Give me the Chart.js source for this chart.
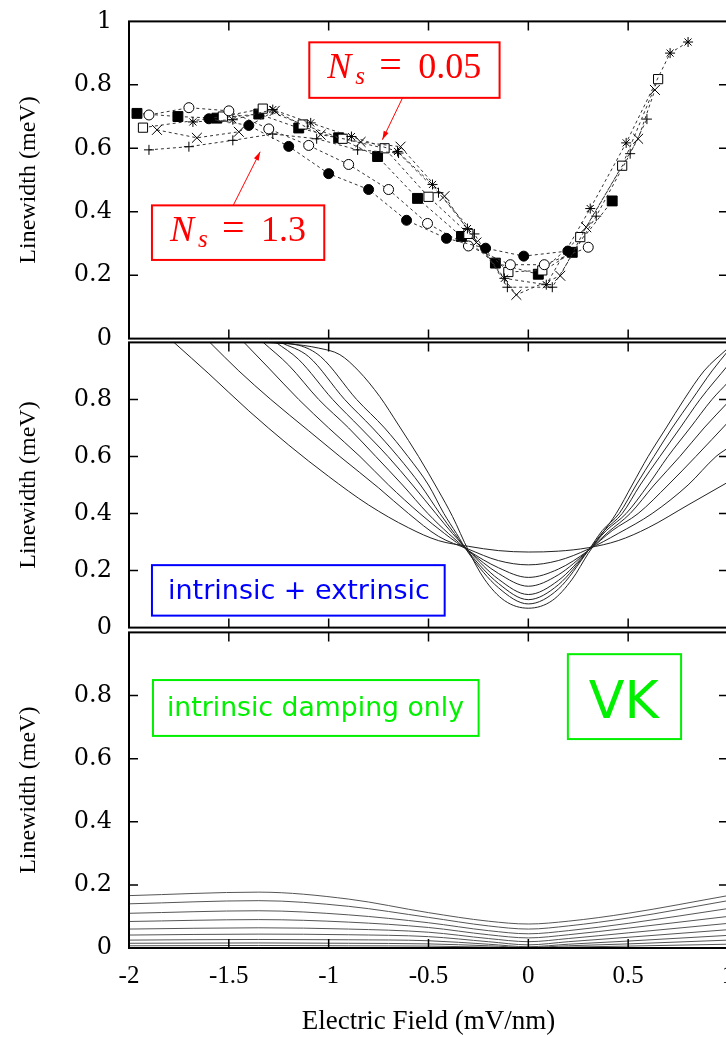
<!DOCTYPE html>
<html>
<head>
<meta charset="utf-8">
<script src="https://cdn.jsdelivr.net/npm/chart.js@4.4.0/dist/chart.umd.min.js"></script>
<style>
  html, body { margin: 0; padding: 0; background: #fff; overflow: hidden; width: 726px; height: 1037px; }
  canvas { position: absolute; left: 0; width: 760px; }
</style>
</head>
<body>
<canvas id="topChart" width="760" height="380" style="top:-10px; height:380px"></canvas>
<canvas id="midChart" width="760" height="348" style="top:311px; height:348px"></canvas>
<canvas id="botChart" width="760" height="436" style="top:601px; height:436px"></canvas>
<script>
// ---- measured linewidths (top panel), [field, linewidth] ----
const filledSquares = [[-1.96,0.71],[-1.755,0.70],[-1.56,0.695],[-1.35,0.708],[-1.15,0.664],[-0.95,0.633],[-0.755,0.574],[-0.555,0.442],[-0.335,0.322],[-0.165,0.238],[0.05,0.203],[0.22,0.272],[0.42,0.434]];
const filledCircles = [[-1.60,0.693],[-1.40,0.672],[-1.20,0.606],[-1.00,0.52],[-0.80,0.47],[-0.61,0.373],[-0.41,0.316],[-0.214,0.285],[-0.023,0.26],[0.198,0.276]];
const openCircles = [[-1.90,0.705],[-1.70,0.728],[-1.50,0.718],[-1.30,0.661],[-1.10,0.609],[-0.90,0.549],[-0.70,0.47],[-0.505,0.363],[-0.30,0.292],[-0.09,0.233],[0.08,0.233],[0.30,0.288]];
const openSquares = [[-1.93,0.665],[-1.53,0.70],[-1.33,0.725],[-1.13,0.675],[-0.93,0.63],[-0.72,0.60],[-0.50,0.447],[-0.30,0.33],[-0.10,0.21],[0.07,0.215],[0.26,0.32],[0.47,0.545],[0.65,0.818]];
const crosses = [[-1.86,0.658],[-1.66,0.633],[-1.45,0.652],[-1.27,0.718],[-1.04,0.643],[-0.84,0.62],[-0.64,0.605],[-0.42,0.449],[-0.26,0.303],[-0.06,0.138],[0.16,0.198],[0.29,0.351],[0.55,0.63],[0.634,0.784]];
const plusses = [[-1.90,0.595],[-1.70,0.605],[-1.48,0.625],[-1.28,0.645],[-1.06,0.63],[-0.855,0.595],[-0.65,0.585],[-0.45,0.46],[-0.27,0.33],[-0.105,0.162],[0.12,0.162],[0.34,0.386],[0.51,0.583],[0.594,0.692]];
const stars = [[-1.68,0.683],[-1.48,0.69],[-1.28,0.722],[-1.09,0.68],[-0.886,0.637],[-0.655,0.59],[-0.48,0.486],[-0.305,0.347],[-0.12,0.19],[0.09,0.17],[0.31,0.41],[0.49,0.617],[0.71,0.90],[0.80,0.935]];

// ---- intrinsic + extrinsic (middle panel) ----
const mixed1 = [[-1.775,1],[-1.6,0.89],[-1.4,0.76],[-1.2,0.64],[-1.0,0.53],[-0.8,0.43],[-0.6,0.35],[-0.45,0.305],[-0.3,0.285],[-0.15,0.27],[0,0.265],[0.15,0.268],[0.3,0.28],[0.45,0.305],[0.6,0.35],[0.8,0.43],[1.0,0.51]];
const mixed2 = [[-1.595,1],[-1.45,0.9],[-1.29,0.8],[-1.1,0.69],[-0.944,0.6],[-0.75,0.49],[-0.6,0.4],[-0.45,0.32],[-0.3,0.275],[-0.15,0.235],[0,0.22],[0.15,0.235],[0.3,0.275],[0.45,0.33],[0.62,0.4],[0.8,0.5],[0.94,0.6],[1.0,0.63]];
const mixed3 = [[-1.424,1],[-1.3,0.91],[-1.15,0.8],[-1.0,0.7],[-0.843,0.6],[-0.7,0.5],[-0.543,0.4],[-0.42,0.33],[-0.3,0.27],[-0.15,0.21],[0,0.176],[0.15,0.205],[0.3,0.27],[0.42,0.34],[0.55,0.4],[0.7,0.5],[0.839,0.6],[1.0,0.72]];
const mixed4 = [[-1.328,1],[-1.2,0.92],[-1.05,0.8],[-0.9,0.7],[-0.764,0.6],[-0.63,0.5],[-0.503,0.4],[-0.4,0.33],[-0.3,0.27],[-0.15,0.19],[0,0.145],[0.15,0.185],[0.3,0.27],[0.4,0.335],[0.51,0.4],[0.63,0.5],[0.759,0.6],[0.88,0.7],[1.0,0.79]];
const mixed5 = [[-1.264,1],[-1.15,0.94],[-0.98,0.8],[-0.84,0.7],[-0.703,0.6],[-0.58,0.5],[-0.463,0.4],[-0.38,0.33],[-0.3,0.27],[-0.15,0.17],[0,0.116],[0.15,0.165],[0.3,0.27],[0.39,0.34],[0.49,0.4],[0.6,0.5],[0.699,0.6],[0.81,0.7],[0.92,0.8],[1.0,0.86]];
const mixed6 = [[-1.24,1],[-1.1,0.95],[-0.92,0.8],[-0.78,0.7],[-0.653,0.6],[-0.54,0.5],[-0.443,0.4],[-0.37,0.33],[-0.3,0.265],[-0.15,0.155],[0,0.098],[0.15,0.15],[0.3,0.27],[0.38,0.34],[0.47,0.4],[0.56,0.5],[0.659,0.6],[0.76,0.7],[0.86,0.8],[1.0,0.92]];
const mixed7 = [[-1.3,1],[-1.15,0.99],[-1.04,0.95],[-0.86,0.8],[-0.72,0.7],[-0.603,0.6],[-0.5,0.5],[-0.423,0.4],[-0.36,0.33],[-0.3,0.262],[-0.15,0.14],[0,0.083],[0.15,0.135],[0.3,0.27],[0.37,0.34],[0.455,0.4],[0.54,0.5],[0.629,0.6],[0.72,0.7],[0.82,0.8],[0.92,0.9],[1.0,0.97]];
const mixed8 = [[-1.35,1],[-1.2,0.995],[-1.05,0.98],[-0.944,0.957],[-0.85,0.9],[-0.744,0.81],[-0.65,0.71],[-0.55,0.6],[-0.45,0.48],[-0.38,0.39],[-0.3,0.27],[-0.22,0.17],[-0.12,0.095],[0,0.068],[0.12,0.095],[0.22,0.17],[0.3,0.26],[0.37,0.33],[0.44,0.4],[0.52,0.5],[0.6,0.6],[0.69,0.7],[0.78,0.8],[0.88,0.9],[1.0,0.98]];

// ---- intrinsic damping only (bottom panel) ----
const intrX = [-2, -1.35, -0.9, -0.5, -0.2, 0, 0.2, 0.5, 1.0];
const intr1 = [0.166, 0.177, 0.155, 0.112, 0.085, 0.076, 0.085, 0.11, 0.166];
const intr2 = [0.14, 0.15, 0.132, 0.097, 0.07, 0.06, 0.07, 0.095, 0.15];
const intr3 = [0.11, 0.118, 0.105, 0.08, 0.055, 0.045, 0.055, 0.078, 0.125];
const intr4 = [0.084, 0.09, 0.082, 0.065, 0.042, 0.032, 0.042, 0.063, 0.10];
const intr5 = [0.06, 0.064, 0.06, 0.05, 0.03, 0.02, 0.03, 0.048, 0.078];
const intr6 = [0.041, 0.044, 0.042, 0.036, 0.02, 0.01, 0.02, 0.034, 0.058];
const intr7 = [0.025, 0.027, 0.026, 0.023, 0.012, 0.004, 0.012, 0.022, 0.04];
const intr8 = [0.015, 0.016, 0.015, 0.013, 0.007, 0.002, 0.007, 0.013, 0.025];
const intr9 = [0.007, 0.008, 0.007, 0.006, 0.003, 0.0, 0.003, 0.006, 0.012];

const xTickValues = [-1.5, -1, -0.5, 0, 0.5];
const yTickValues = [0.2, 0.4, 0.6, 0.8];

function toPoints(pairs) {
  return pairs.map((p) => ({ x: p[0], y: p[1] }));
}

function markerSet(pairs, style, fill, radius) {
  return {
    data: toPoints(pairs),
    showLine: true,
    borderColor: "#333",
    borderWidth: 1,
    borderDash: [3, 3],
    pointStyle: style,
    pointRadius: radius,
    pointBackgroundColor: fill,
    pointBorderColor: "#000",
    pointBorderWidth: 1,
    tension: 0,
  };
}

function curveSet(pairs, color) {
  return {
    data: toPoints(pairs),
    borderColor: color,
    borderWidth: 1,
    pointRadius: 0,
    cubicInterpolationMode: "monotone",
  };
}

function xScale(show) {
  const scale = {
    type: "linear",
    min: -2,
    max: 1,
    display: show,
    ticks: {
      stepSize: 0.5,
      padding: 13,
      color: "#000",
      font: { family: "Liberation Serif", size: 25 },
      callback: (v) => String(Math.round(v * 10) / 10),
    },
    grid: { display: false, drawTicks: false },
    border: { display: false },
    title: {
      display: true,
      text: "Electric Field (mV/nm)",
      color: "#000",
      font: { family: "Liberation Serif", size: 27 },
      padding: { top: 0, bottom: -1 },
    },
  };
  // only the bottom panel carries the shared x axis
  if (show) scale.afterFit = (s) => { s.height = 89; };
  return scale;
}

function yScale(showTopLabel) {
  return {
    min: 0,
    max: 1,
    ticks: {
      stepSize: 0.2,
      padding: 17,
      color: "#000",
      font: { family: "DejaVu Serif", size: 24 },
      callback: (v) => (!showTopLabel && v > 0.99 ? "" : String(Math.round(v * 10) / 10)),
    },
    grid: { display: false, drawTicks: false },
    border: { display: false },
    title: {
      display: true,
      text: "Linewidth (meV)",
      color: "#000",
      font: { family: "Liberation Serif", size: 24 },
      padding: { top: 14, bottom: 0 },
    },
    afterFit: (scale) => { scale.width = 129; },
  };
}

// frame with inward ticks on all four sides
const framePlugin = {
  id: "frame",
  afterDatasetsDraw(chart) {
    const { ctx, chartArea: a, scales } = chart;
    ctx.save();
    ctx.strokeStyle = "#000";
    ctx.lineWidth = 2;
    ctx.strokeRect(a.left, a.top, a.right - a.left, a.bottom - a.top);
    ctx.lineWidth = 1.5;
    ctx.beginPath();
    xTickValues.forEach((v) => {
      const px = scales.x.getPixelForValue(v);
      ctx.moveTo(px, a.top); ctx.lineTo(px, a.top + 9);
      ctx.moveTo(px, a.bottom); ctx.lineTo(px, a.bottom - 9);
    });
    yTickValues.forEach((v) => {
      const py = scales.y.getPixelForValue(v);
      ctx.moveTo(a.left, py); ctx.lineTo(a.left + 9, py);
      ctx.moveTo(a.right, py); ctx.lineTo(a.right - 9, py);
    });
    ctx.stroke();
    ctx.restore();
  },
};

function boxAt(chart, x0, y0, x1, y1, color) {
  const { ctx, scales } = chart;
  const l = scales.x.getPixelForValue(x0), t = scales.y.getPixelForValue(y0);
  const r = scales.x.getPixelForValue(x1), b = scales.y.getPixelForValue(y1);
  ctx.fillStyle = "#fff";
  ctx.fillRect(l, t, r - l, b - t);
  ctx.strokeStyle = color;
  ctx.lineWidth = 2;
  ctx.strokeRect(l, t, r - l, b - t);
  return { l, t, r, b };
}

function fitText(ctx, text, family, width, x, y, color) {
  ctx.font = "26px '" + family + "'";
  const size = 26 * width / ctx.measureText(text).width;
  ctx.font = size.toFixed(2) + "px '" + family + "'";
  ctx.fillStyle = color;
  ctx.textBaseline = "alphabetic";
  ctx.fillText(text, x, y);
}

function arrow(chart, x0, y0, x1, y1) {
  const { ctx, scales } = chart;
  const ax = scales.x.getPixelForValue(x0), ay = scales.y.getPixelForValue(y0);
  const bx = scales.x.getPixelForValue(x1), by = scales.y.getPixelForValue(y1);
  const ang = Math.atan2(by - ay, bx - ax);
  ctx.strokeStyle = "#f00";
  ctx.fillStyle = "#f00";
  ctx.lineWidth = 1;
  ctx.beginPath(); ctx.moveTo(ax, ay); ctx.lineTo(bx, by); ctx.stroke();
  ctx.beginPath();
  ctx.moveTo(bx, by);
  ctx.lineTo(bx - 9 * Math.cos(ang - 0.3), by - 9 * Math.sin(ang - 0.3));
  ctx.lineTo(bx - 9 * Math.cos(ang + 0.3), by - 9 * Math.sin(ang + 0.3));
  ctx.closePath(); ctx.fill();
}

function nsLabel(ctx, box, value) {
  const base = box.t + 36;
  ctx.fillStyle = "#f00";
  ctx.textBaseline = "alphabetic";
  ctx.font = "italic 36px 'Liberation Serif'";
  ctx.fillText("N", box.l + 18, base);
  ctx.font = "italic 25px 'Liberation Serif'";
  ctx.fillText("s", box.l + 46, base + 6);
  ctx.font = "40px 'Liberation Serif'";
  ctx.fillText("=", box.l + 70, base);
  ctx.font = "36px 'Liberation Serif'";
  ctx.fillText(value, box.l + 109, base);
}

const topNotes = {
  id: "topNotes",
  afterDraw(chart) {
    const ctx = chart.ctx;
    ctx.save();
    arrow(chart, -0.63, 0.759, -0.731, 0.627);
    arrow(chart, -1.478, 0.42, -1.343, 0.589);
    nsLabel(ctx, boxAt(chart, -1.097, 0.934, -0.144, 0.759, "#f00"), "0.05");
    nsLabel(ctx, boxAt(chart, -1.885, 0.42, -1.022, 0.248, "#f00"), "1.3");
    ctx.restore();
  },
};

const midNotes = {
  id: "midNotes",
  afterDraw(chart) {
    const ctx = chart.ctx;
    ctx.save();
    const b = boxAt(chart, -1.885, 0.219, -0.419, 0.042, "#00f");
    fitText(ctx, "intrinsic + extrinsic", "DejaVu Sans", 262, b.l + 16, b.t + 34, "#00f");
    ctx.restore();
  },
};

const botNotes = {
  id: "botNotes",
  afterDraw(chart) {
    const ctx = chart.ctx;
    ctx.save();
    const g = boxAt(chart, -1.88, 0.849, -0.249, 0.672, "#00f000");
    fitText(ctx, "intrinsic damping only", "DejaVu Sans", 297, g.l + 14, g.t + 36, "#00f000");
    const vk = boxAt(chart, 0.198, 0.931, 0.765, 0.662, "#00f000");
    fitText(ctx, "VK", "DejaVu Sans", 70, vk.l + 21, vk.t + 64, "#00f000");
    ctx.restore();
  },
};

function baseOptions(padTop, padBottom, showX, showTopLabel) {
  return {
    responsive: false,
    animation: false,
    layout: { padding: { top: padTop, bottom: padBottom, left: 0, right: 32 } },
    plugins: { legend: { display: false }, tooltip: { enabled: false } },
    scales: { x: xScale(showX), y: yScale(showTopLabel) },
  };
}

new Chart(document.getElementById("topChart"), {
  type: "line",
  data: {
    datasets: [
      markerSet(filledCircles, "circle", "#000", 5),
      markerSet(openCircles, "circle", "#fff", 5),
      markerSet(plusses, "cross", "#000", 5),
      markerSet(crosses, "crossRot", "#000", 7),
      markerSet(stars, "star", "#000", 5),
      markerSet(openSquares, "rect", "#fff", 6.5),
      markerSet(filledSquares, "rect", "#000", 7),
    ],
  },
  options: baseOptions(31, 30, false, true),
  plugins: [framePlugin, topNotes],
});

new Chart(document.getElementById("midChart"), {
  type: "line",
  data: {
    datasets: [mixed1, mixed2, mixed3, mixed4, mixed5, mixed6, mixed7, mixed8].map((c) => curveSet(c, "#222")),
  },
  options: baseOptions(30, 30, false, false),
  plugins: [framePlugin, midNotes],
});

const intrCurves = [intr1, intr2, intr3, intr4, intr5, intr6, intr7, intr8, intr9];
new Chart(document.getElementById("botChart"), {
  type: "line",
  data: {
    datasets: intrCurves.map((ys) => curveSet(ys.map((y, i) => [intrX[i], y]), "#555")),
  },
  options: baseOptions(30, 0, true, false),
  plugins: [framePlugin, botNotes],
});
</script>
</body>
</html>
